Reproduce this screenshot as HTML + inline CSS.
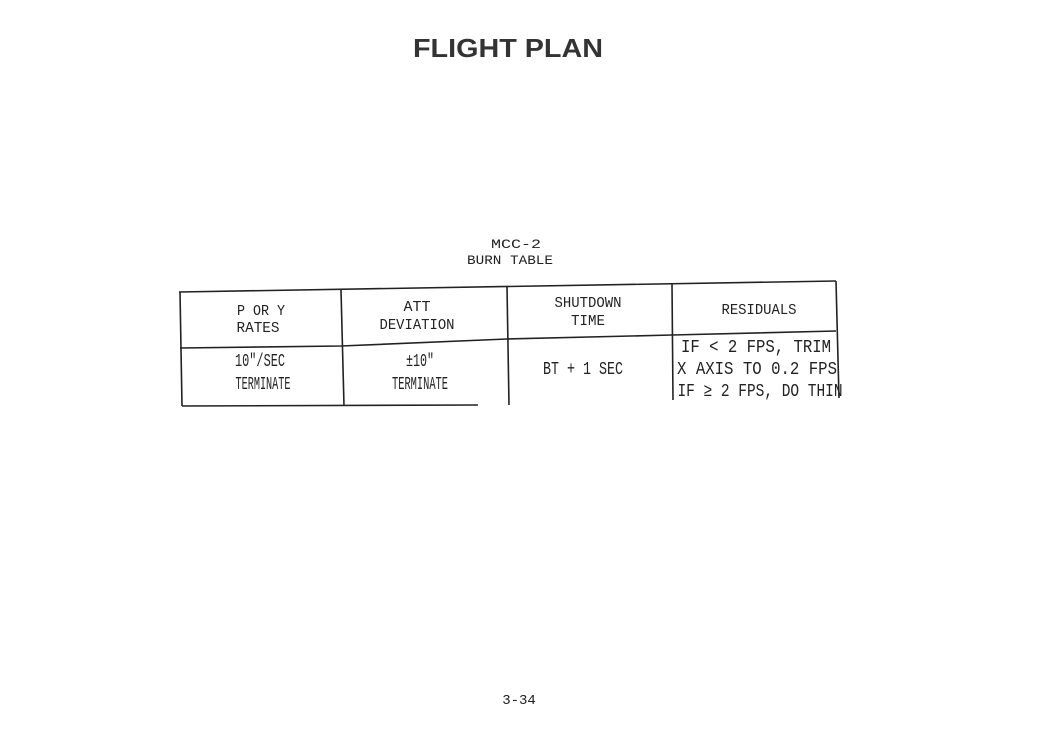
<!DOCTYPE html>
<html><head><meta charset="utf-8"><style>
html,body{margin:0;padding:0;background:#fff;}
svg{display:block;}
</style></head><body>
<svg width="1038" height="738" viewBox="0 0 1038 738" xmlns="http://www.w3.org/2000/svg">
<rect width="1038" height="738" fill="#fff"/>
<text x="508" y="57" text-anchor="middle" font-family="Liberation Sans, sans-serif" font-weight="bold" font-size="26" fill="#333" textLength="190" lengthAdjust="spacingAndGlyphs">FLIGHT PLAN</text>
<g font-family="Liberation Mono, monospace" font-size="15" fill="#222" text-anchor="middle" lengthAdjust="spacingAndGlyphs">
<text x="516" y="248" font-size="13" textLength="50" lengthAdjust="spacingAndGlyphs">MCC-2</text>
<text x="510" y="264" font-size="13" textLength="86" lengthAdjust="spacingAndGlyphs">BURN TABLE</text>
<text x="261" y="315" textLength="48" lengthAdjust="spacingAndGlyphs">P OR Y</text>
<text x="258" y="332" textLength="43" lengthAdjust="spacingAndGlyphs">RATES</text>
<text x="417" y="311" textLength="27" lengthAdjust="spacingAndGlyphs">ATT</text>
<text x="417" y="329" textLength="75" lengthAdjust="spacingAndGlyphs">DEVIATION</text>
<text x="588" y="307" textLength="67" lengthAdjust="spacingAndGlyphs">SHUTDOWN</text>
<text x="588" y="325" textLength="34" lengthAdjust="spacingAndGlyphs">TIME</text>
<text x="759" y="314" textLength="75" lengthAdjust="spacingAndGlyphs">RESIDUALS</text>
<g font-size="18">
<text x="260" y="366" textLength="50" lengthAdjust="spacingAndGlyphs">10"/SEC</text>
<text x="263" y="389" textLength="55" lengthAdjust="spacingAndGlyphs">TERMINATE</text>
<text x="420" y="366" textLength="28" lengthAdjust="spacingAndGlyphs">±10"</text>
<text x="420" y="389" textLength="56" lengthAdjust="spacingAndGlyphs">TERMINATE</text>
<text x="583" y="374" textLength="80" lengthAdjust="spacingAndGlyphs">BT + 1 SEC</text>
<text x="756" y="352" textLength="150" lengthAdjust="spacingAndGlyphs">IF &lt; 2 FPS, TRIM</text>
<text x="757" y="374" textLength="160" lengthAdjust="spacingAndGlyphs">X AXIS TO 0.2 FPS</text>
<text x="760" y="396" textLength="165" lengthAdjust="spacingAndGlyphs">IF   ≥ 2 FPS, DO THIN</text>
</g>
</g>
<g stroke="#222" stroke-width="1.6" fill="none">
<path d="M179 292 L836 281"/>
<path d="M180 348 L341 346 L507 339 L672 335 L836 331"/>
<path d="M180 292 L182 406"/>
<path d="M341 290 L344 406"/>
<path d="M507 287 L509 405"/>
<path d="M672 284 L673 400"/>
<path d="M836 281 L839 398"/>
<path d="M182 406 L478 405"/>
</g>
<text x="519" y="704" text-anchor="middle" font-family="Liberation Mono, monospace" font-size="14" fill="#222">3-34</text>
</svg>
</body></html>
